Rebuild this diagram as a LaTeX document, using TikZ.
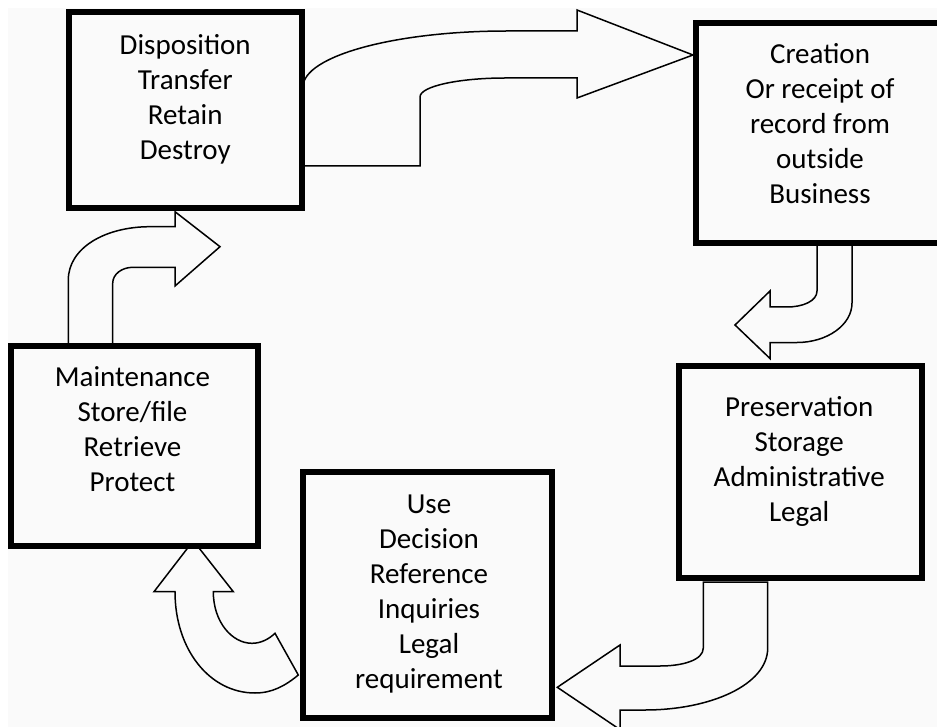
\documentclass[tikz,border=0pt]{standalone}
\usepackage{fontspec}
\setmainfont{Carlito}
\definecolor{paper}{RGB}{250,250,250}

\begin{document}
\begin{tikzpicture}[x=1pt, y=-1pt,
                box/.style={draw, line width=6pt, fill=paper, minimum width=#1},
                txt/.style={align=center, inner sep=0pt, font=\fontsize{29}{35}\selectfont},
                blockarrow/.style={draw, line width=1.5pt, fill=paper, line join=miter}]
                \useasboundingbox (0,0) rectangle (937,727);
                \clip (0,0) rectangle (937,727);
                \fill[paper] (8,8) rectangle (937,727);
                \draw[blockarrow] (303,87) .. controls (303,56) and (395,31) .. (507,31) -- (577,31) -- (577,10) -- (693,55) -- (577,98) -- (577,78) -- (505,78) .. controls (460,78) and (420,86) .. (420,97) -- (420,166) -- (303,166) -- cycle;
                \draw[blockarrow] (817,245) -- (817,291) .. controls (817,301) and (803,307) .. (787,307) -- (770,307) -- (770,291) -- (735,325) -- (770,358.5) -- (770,342.5) -- (797,342.5) .. controls (827,342.5) and (852,325) .. (852,303) -- (852,245) -- cycle;
                \draw[blockarrow] (703.3,582) -- (703.3,648) .. controls (703.3,660) and (683,666) .. (660,666) -- (620,666) -- (620,645) -- (557.3,687.3) -- (620,729.6) -- (620,710) -- (645,710) .. controls (710,710) and (767.7,685) .. (767.7,648) -- (767.7,582) -- cycle;
                \draw[blockarrow] (193.3,540.7) -- (233.3,591.7) -- (213.3,591.7) .. controls (213.3,622) and (232,643.3) .. (252,643.3) .. controls (261,643.3) and (269,639) .. (275,633.3) -- (298.3,675) .. controls (285,686) and (272,693) .. (255,693) .. controls (210,693) and (175,650) .. (175,591.7) -- (154,591.7) -- cycle;
                \draw[blockarrow] (68.3,344) -- (68.3,280) .. controls (68.3,248) and (105,226.7) .. (150,226.7) -- (175,226.7) -- (175,211.7) -- (220,246.7) -- (175,286) -- (175,267.3) -- (133,267.3) .. controls (122,267.3) and (112.7,274) .. (112.7,283.3) -- (112.7,344) -- cycle;
                \node[box=232.5pt, minimum height=196.5pt] (disp) at (185.25,110.25) {};
                \node[box=249.5pt, minimum height=220pt] (crea) at (820.25,133) {};
                \node[box=243pt, minimum height=212.5pt] (pres) at (800.5,471.75) {};
                \node[box=249pt, minimum height=246pt] (use) at (427.5,595) {};
                \node[box=247pt, minimum height=199.5pt] (maint) at (134.5,445.75) {};
                \node[txt] (dispT) at (185.25,99) {Disposition\\Transfer\\Retain\\Destroy};
                \node[txt] (creaT) at (820,124) {Creation\\Or receipt of\\record from\\outside\\Business};
                \node[txt] (presT) at (799.2,461.7) {Preservation\\Storage\\Administrative\\Legal};
                \node[txt] (useT) at (429,594) {Use\\Decision\\Reference\\Inquiries\\Legal\\requirement};
                \node[txt] (maintT) at (132.5,429) {Maintenance\\Store/file\\Retrieve\\Protect};
                \end{tikzpicture}
\end{document}
